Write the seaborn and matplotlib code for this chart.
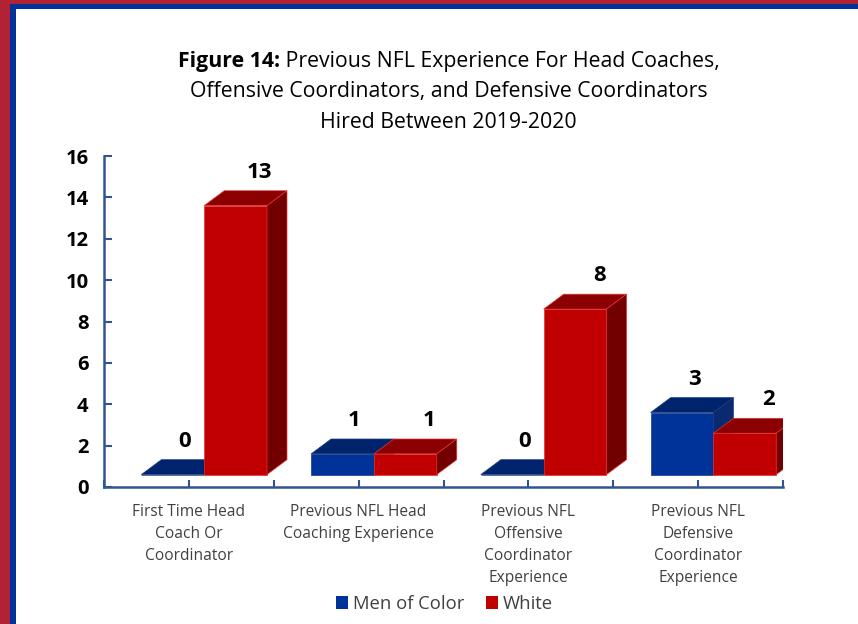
import matplotlib
matplotlib.use('Agg')
from matplotlib import pyplot as plt
from matplotlib.patches import Polygon, Rectangle
import pandas as pd
import seaborn as sns

# chart data
categories = ['First Time Head\nCoach Or\nCoordinator',
              'Previous NFL Head\nCoaching Experience',
              'Previous NFL\nOffensive\nCoordinator\nExperience',
              'Previous NFL\nDefensive\nCoordinator\nExperience']
groups = ['Men of Color', 'White']
men_of_color = [0, 1, 0, 3]
white = [13, 1, 8, 2]
yticks = list(range(0, 17, 2))

df = pd.DataFrame({
    'category': categories * 2,
    'group': [groups[0]] * len(categories) + [groups[1]] * len(categories),
    'count': men_of_color + white,
})

sns.set_theme(style='white')
plt.rcParams['font.family'] = ['Open Sans', 'DejaVu Sans']
plt.rcParams['text.color'] = 'black'

front = {'Men of Color': '#003399', 'White': '#c00000'}
top = {'Men of Color': '#00236e', 'White': '#8b0000'}
side = {'Men of Color': '#0a2a70', 'White': '#720000'}
edge = {'Men of Color': '#1a3a80', 'White': '#e83030'}
axis_col = '#2f5597'
text_col = '#404040'

fig = plt.figure(figsize=(8.58, 6.24), dpi=100)
fig.patch.set_facecolor('white')
ax = fig.add_axes([104 / 858, 1 - 487 / 624, (783 - 104) / 858, (487 - 156) / 624])

sns.barplot(data=df, x='category', y='count', hue='group', palette=front,
            width=0.74, saturation=1, edgecolor='none', ax=ax, legend=True)

# fake 3d look: lift front faces and add top / side faces
base = 0.6
dx, dy = 0.118, 0.72
shift = 0.09
for k, (cont, g) in enumerate(zip(ax.containers, groups)):
    for bar in cont:
        x0 = bar.get_x() + shift
        w = bar.get_width()
        h = bar.get_height()
        bar.set_x(x0)
        bar.set_y(base)
        bar.set_zorder(2 + k)
        bar.set_edgecolor(edge[g])
        bar.set_linewidth(0.5)
        yt = base + h
        ax.add_patch(Polygon([(x0, yt), (x0 + w, yt), (x0 + w + dx, yt + dy), (x0 + dx, yt + dy)],
                             closed=True, facecolor=top[g], edgecolor=edge[g], linewidth=0.5, zorder=2 + k))
        ax.add_patch(Polygon([(x0 + w, base), (x0 + w + dx, base + dy), (x0 + w + dx, yt + dy), (x0 + w, yt)],
                             closed=True, facecolor=side[g], edgecolor=edge[g], linewidth=0.5, zorder=2 + k))
        ax.text(x0 + w / 2 + dx * (0.6 + 0.6 * k), yt + dy + 0.9, '%d' % round(h), ha='center', va='center',
                fontsize=16, fontweight='bold', color='black', zorder=5)

ax.set_xlim(-0.5, len(categories) - 0.5)
ax.set_ylim(0, 16)
ax.set_yticks(yticks)
ax.set_xticks(range(len(categories)))
ax.set_xticks([i - 0.5 for i in range(len(categories) + 1)], minor=True)
ax.set_xticklabels(categories, fontsize=11.2, color=text_col, linespacing=1.5)
ax.set_yticklabels([str(t) for t in yticks], fontsize=14.5, fontweight='bold', color='black')
ax.set_xlabel('')
ax.set_ylabel('')
ax.tick_params(axis='x', which='both', bottom=True, direction='in', length=5, width=1.5,
               color=axis_col, pad=12)
ax.tick_params(axis='y', left=True, direction='in', length=6, width=1.5, color=axis_col, pad=11)
for s in ['top', 'right']:
    ax.spines[s].set_visible(False)
for s in ['left', 'bottom']:
    ax.spines[s].set_color(axis_col)
    ax.spines[s].set_linewidth(1.8)
ax.set_facecolor('none')

handles, labels = ax.get_legend_handles_labels()
ax.get_legend().remove()
fig.legend(handles, labels, loc='center', bbox_to_anchor=(0.518, 1 - 604 / 624), ncol=2,
           frameon=False, fontsize=13.3, handlelength=0.65, handleheight=0.7,
           handletextpad=0.25, columnspacing=1.2, labelcolor=text_col)

# title, first part bold
tx, ty = 0.523, 1 - 62 / 624
fs = 15.3
fig.canvas.draw()
r = fig.canvas.get_renderer()
t1 = fig.text(0, ty, 'Figure 14:', fontsize=fs, fontweight='bold', va='center', ha='left')
t2 = fig.text(0, ty, ' Previous NFL Experience For Head Coaches,', fontsize=fs, va='center', ha='left')
w1 = t1.get_window_extent(r).width / fig.bbox.width
w2 = t2.get_window_extent(r).width / fig.bbox.width
t1.set_x(tx - (w1 + w2) / 2)
t2.set_x(tx - (w1 + w2) / 2 + w1)
fig.text(tx, 1 - 92 / 624, 'Offensive Coordinators, and Defensive Coordinators', fontsize=fs,
         va='center', ha='center')
fig.text(tx, 1 - 122 / 624, 'Hired Between 2019-2020', fontsize=fs, va='center', ha='center')

# frame strips
W, H = 858, 624
fig.add_artist(Rectangle((0, 0), 10 / W, 1, transform=fig.transFigure, facecolor='#b22234', edgecolor='none'))
fig.add_artist(Rectangle((0, 1 - 4 / H), 1, 4 / H, transform=fig.transFigure, facecolor='#b22234', edgecolor='none'))
fig.add_artist(Rectangle((10 / W, 0), 6 / W, 1 - 4 / H, transform=fig.transFigure, facecolor='#003399', edgecolor='none'))
fig.add_artist(Rectangle((10 / W, 1 - 9 / H), 1, 5 / H, transform=fig.transFigure, facecolor='#003399', edgecolor='none'))

fig.savefig('out.png', dpi=100)
